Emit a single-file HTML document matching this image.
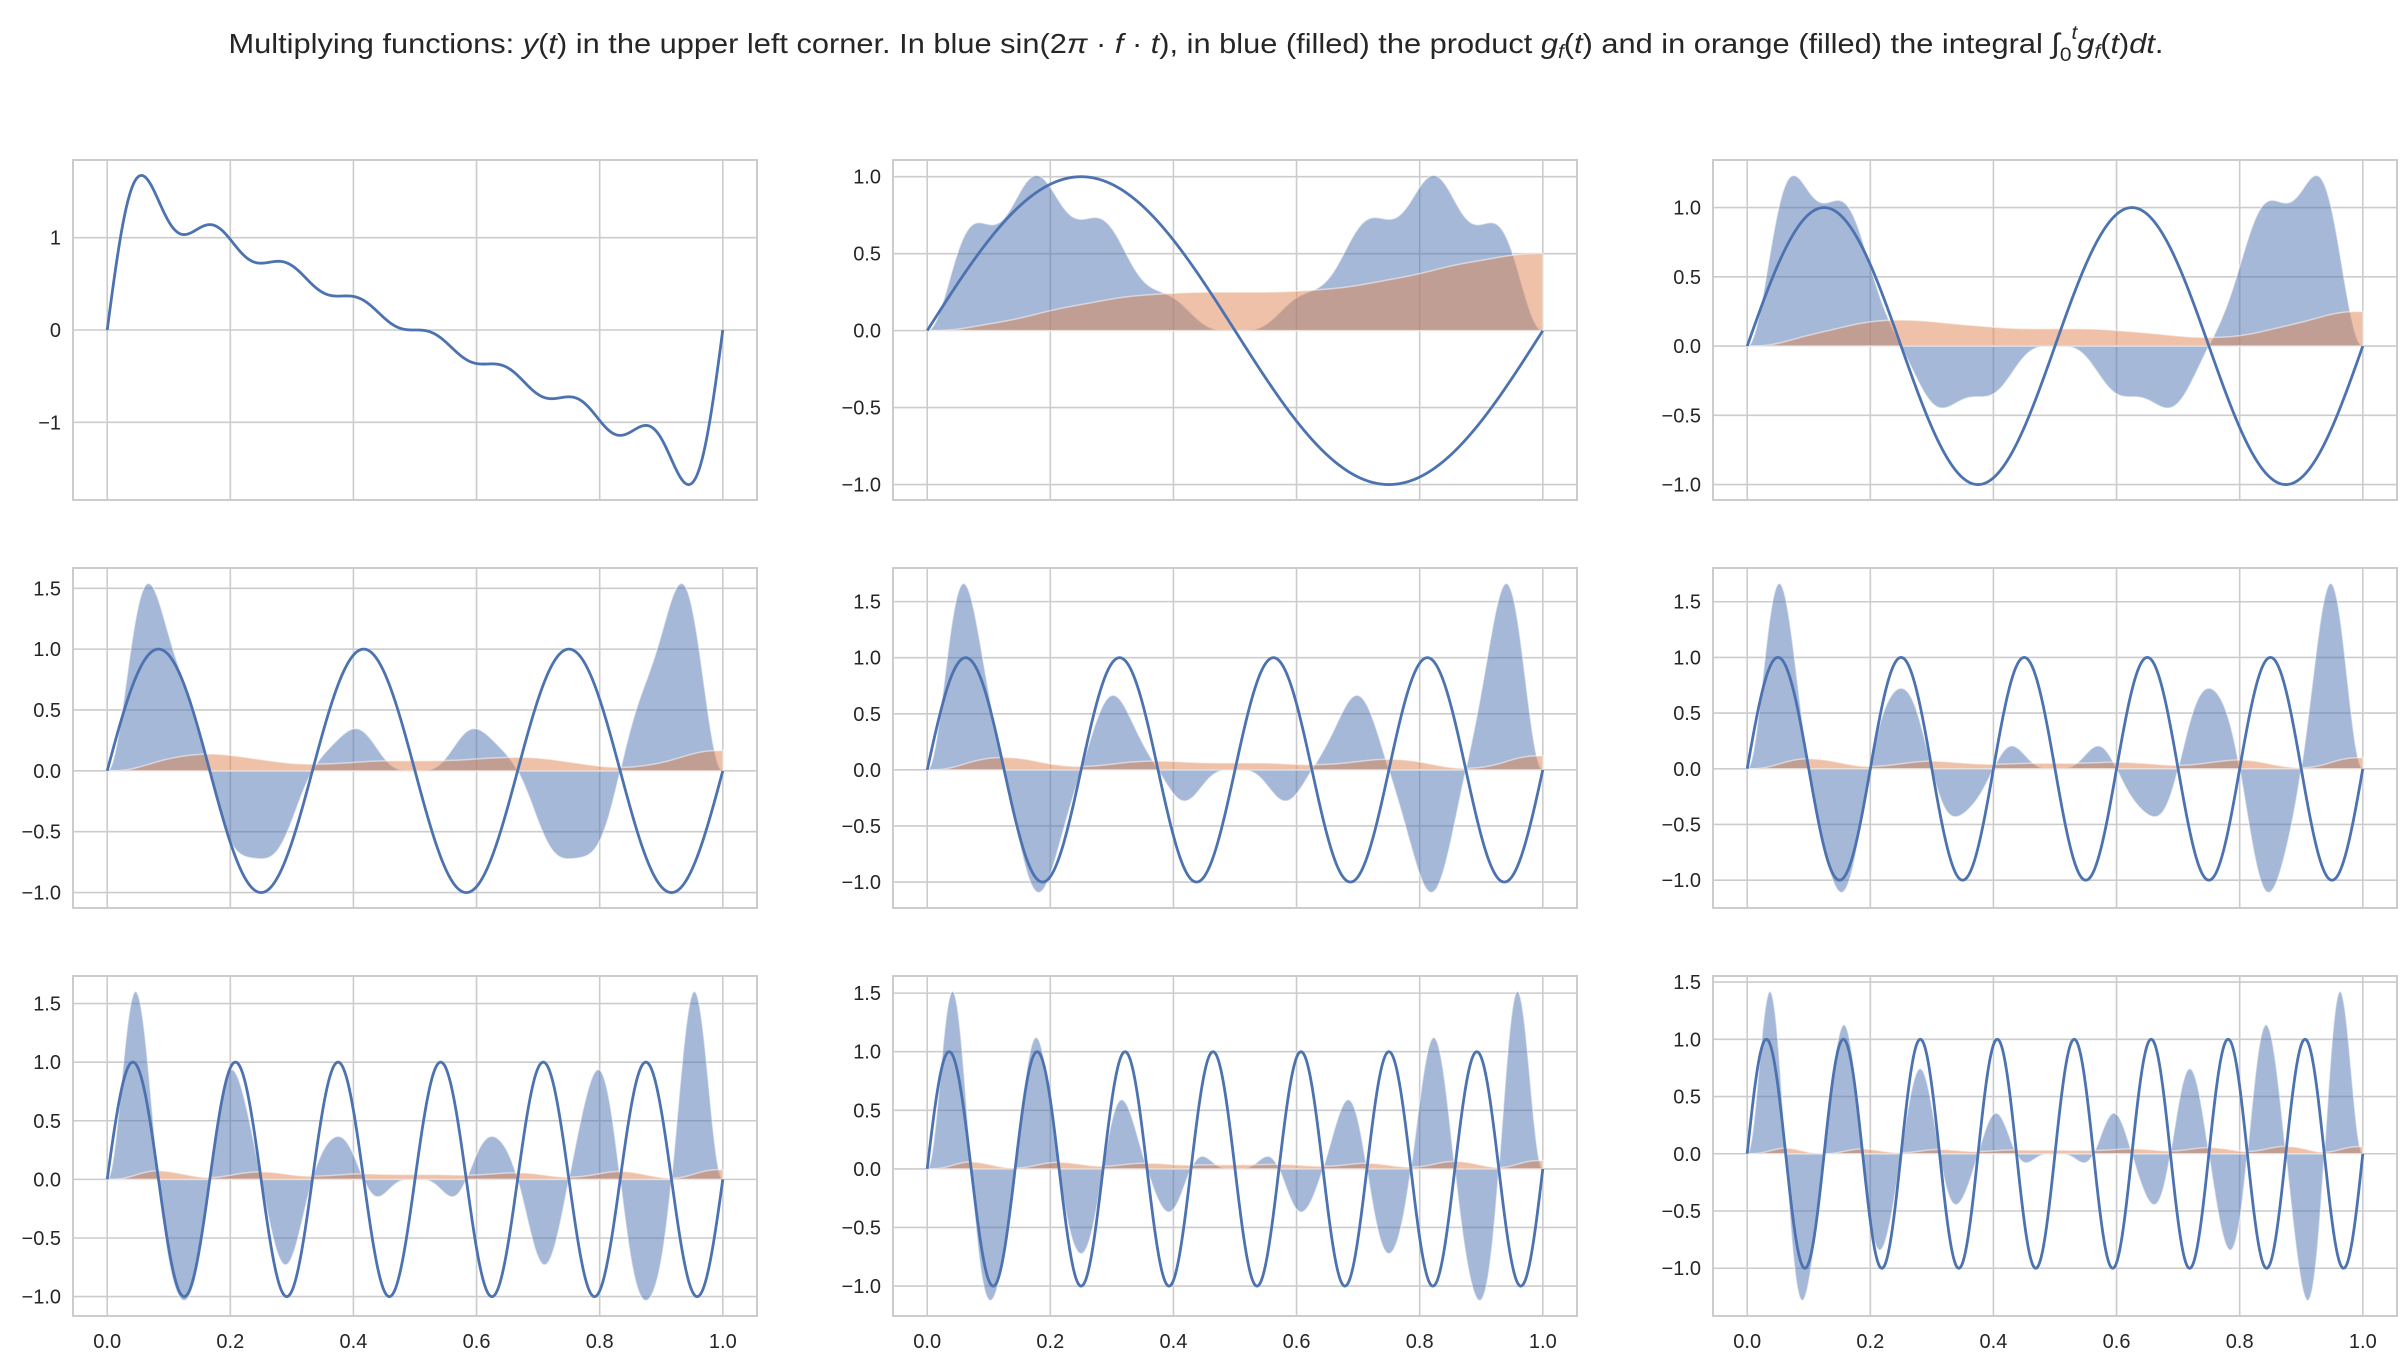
<!DOCTYPE html>
<html><head><meta charset="utf-8"><style>
html,body{margin:0;padding:0;background:#fff;}
svg{display:block;font-family:"Liberation Sans","DejaVu Sans",sans-serif;}
</style></head><body>
<svg id="fig" width="2407" height="1362" viewBox="0 0 2407 1362" xmlns="http://www.w3.org/2000/svg">
<text x="1196" y="53" font-size="28" fill="#262626" text-anchor="middle" textLength="1935" lengthAdjust="spacingAndGlyphs">Multiplying functions: <tspan font-style="italic">y</tspan>(<tspan font-style="italic">t</tspan>) in the upper left corner. In blue sin(2<tspan font-style="italic">π</tspan> · <tspan font-style="italic">f</tspan> · <tspan font-style="italic">t</tspan>), in blue (filled) the product <tspan font-style="italic">g</tspan><tspan font-style="italic" font-size="19" dy="5">f</tspan><tspan dy="-5">(</tspan><tspan font-style="italic">t</tspan>) and in orange (filled) the integral ∫<tspan font-size="19" dy="8">0</tspan><tspan font-size="19" font-style="italic" dy="-22">t</tspan><tspan font-style="italic" dy="14">g</tspan><tspan font-style="italic" font-size="19" dy="5">f</tspan><tspan dy="-5">(</tspan><tspan font-style="italic">t</tspan>)<tspan font-style="italic">dt</tspan>.</text>
</svg>
<script>
// Fourier amplitudes of y(t) for harmonics 1..8
const harmonicAmps = [1.0, 0.5, 0.3333, 0.25, 0.2, 0.1667, 0.1429, 0.125];
// frequency f used in panels 2..9
const panelFreqs = [1, 2, 3, 4, 5, 6, 7, 8];
const xTickValues = [0.0, 0.2, 0.4, 0.6, 0.8, 1.0];
const xTickLabels = ["0.0", "0.2", "0.4", "0.6", "0.8", "1.0"];
const yTicksPanel1 = [-1, 0, 1];
const yTickLabelsPanel1 = ["−1", "0", "1"];
const yTicksHalf = [-1.0, -0.5, 0.0, 0.5, 1.0, 1.5];
const yTickLabelsHalf = ["−1.0", "−0.5", "0.0", "0.5", "1.0", "1.5"];

const NS = "http://www.w3.org/2000/svg";
const svg = document.getElementById('fig');
const N = 1200;
const colLeft = [73, 893, 1713], rowTop = [160, 568, 976];
const AW = 684, AH = 340;
const BLUE = "#4c72b0", ORANGE = "#dd8452", GRID = "#cccccc", TXT = "#262626";

function mk(tag, attrs, parent) {
  const e = document.createElementNS(NS, tag);
  for (const k in attrs) e.setAttribute(k, attrs[k]);
  (parent || svg).appendChild(e);
  return e;
}
const ts = [];
for (let i = 0; i <= N; i++) ts.push(i / N);
const ys = ts.map(t => harmonicAmps.reduce((s, a, k) => s + a * Math.sin(2 * Math.PI * (k + 1) * t), 0));

function panel(idx) {
  const r = Math.floor(idx / 3), c = idx % 3;
  const L = colLeft[c], T = rowTop[r];
  const g = mk('g', {});
  
  
  let series = [], sinv = null, prod = null, integ = null;
  if (idx === 0) {
    series = [ys];
  } else {
    const f = panelFreqs[idx - 1];
    sinv = ts.map(t => Math.sin(2 * Math.PI * f * t));
    prod = ys.map((y, i) => y * sinv[i]);
    integ = [0];
    for (let i = 1; i <= N; i++) integ.push(integ[i - 1] + (prod[i] + prod[i - 1]) / 2 / N);
    series = [sinv, prod, integ, [0]];
  }
  let mn = Infinity, mx = -Infinity;
  series.forEach(s => s.forEach(v => { if (v < mn) mn = v; if (v > mx) mx = v; }));
  const pad = (mx - mn) * 0.05; mn -= pad; mx += pad;
  const xs = t => L + AW * (0.05 + 0.9 * t);
  const yS = v => T + AH * (mx - v) / (mx - mn);
  xTickValues.forEach((tv, i) => {
    const gl = mk('line', { x1: xs(tv), x2: xs(tv), y1: T, y2: T + AH, stroke: GRID, 'stroke-width': 1.6 }, g);
    
    
    if (r === 2) {
      const tl = mk('text', { x: xs(tv), y: T + AH + 32, 'font-size': 20, fill: TXT, 'text-anchor': 'middle' }, g);
      tl.textContent = xTickLabels[i];
      
      
    }
  });
  const yt = idx === 0 ? yTicksPanel1 : yTicksHalf;
  const yl = idx === 0 ? yTickLabelsPanel1 : yTickLabelsHalf;
  yt.forEach((v, i) => {
    if (v < mn || v > mx) return;
    const gl = mk('line', { x1: L, x2: L + AW, y1: yS(v), y2: yS(v), stroke: GRID, 'stroke-width': 1.6 }, g);
    
    
    const tl = mk('text', { x: L - 12, y: yS(v) + 7, 'font-size': 20, fill: TXT, 'text-anchor': 'end' }, g);
    tl.textContent = yl[i];
    
    
  });
  const fillPath = arr => {
    let d = 'M' + xs(0) + ',' + yS(0);
    arr.forEach((v, i) => { d += 'L' + xs(ts[i]).toFixed(2) + ',' + yS(v).toFixed(2); });
    d += 'L' + xs(1) + ',' + yS(0) + 'Z';
    return d;
  };
  const linePath = arr => arr.map((v, i) => (i ? 'L' : 'M') + xs(ts[i]).toFixed(2) + ',' + yS(v).toFixed(2)).join('');
  if (idx > 0) {
    const pf = mk('path', { d: fillPath(prod), fill: BLUE, 'fill-opacity': 0.5, stroke: '#fff', 'stroke-opacity': 0.5, 'stroke-width': 1.5 }, g);
    
    
    const inf = mk('path', { d: fillPath(integ), fill: ORANGE, 'fill-opacity': 0.5, stroke: '#fff', 'stroke-opacity': 0.5, 'stroke-width': 1.5 }, g);
    
    
  }
  const ln = mk('path', { d: linePath(idx === 0 ? ys : sinv), fill: 'none', stroke: BLUE, 'stroke-width': 2.8, 'stroke-linejoin': 'round' }, g);
  
  
  const fr = mk('rect', { x: L, y: T, width: AW, height: AH, fill: 'none', stroke: GRID, 'stroke-width': 2 }, g);
  
  
}
for (let i = 0; i < 9; i++) panel(i);
</script>
</body></html>
